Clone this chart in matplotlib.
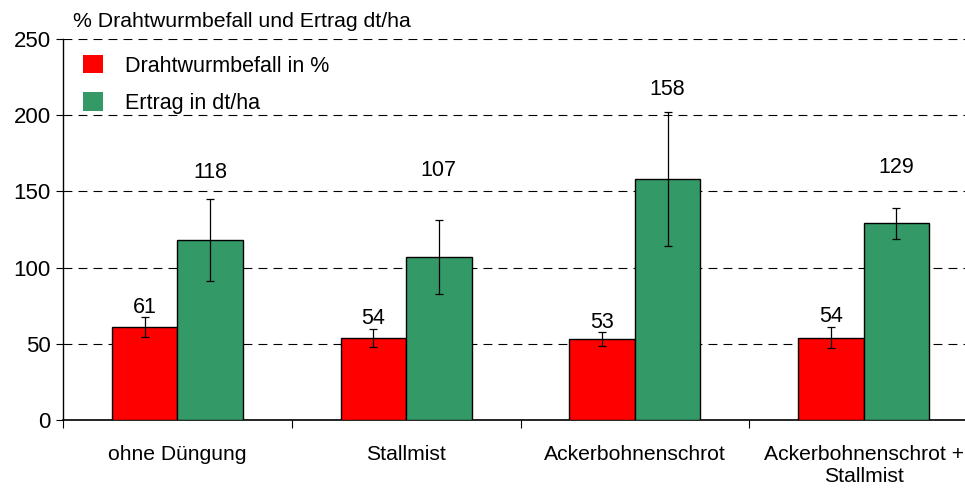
import matplotlib
matplotlib.use("Agg")
import matplotlib.pyplot as plt
from matplotlib.patches import Patch
import numpy as np

kategorien = ["ohne Düngung", "Stallmist", "Ackerbohnenschrot", "Ackerbohnenschrot +\nStallmist"]
drahtwurm = [61, 54, 53, 54]
drahtwurm_fehler = [6.4, 6, 4.5, 7]
ertrag = [118, 107, 158, 129]
ertrag_fehler = [27, 24, 44, 10]
y_ticks = [0, 50, 100, 150, 200, 250]

ROT = "#ff0000"
GRUEN = "#339966"

# Hoehe der Ertrag-Beschriftungen (wie im Original frei platziert)
ertrag_label_y = [159, 160, 213, 162]

plt.rcParams["font.family"] = ["Liberation Sans", "DejaVu Sans"]
plt.rcParams["font.size"] = 15.5

fig = plt.figure(figsize=(9.65, 4.88), dpi=100)
ax = fig.add_axes([63 / 965, 68 / 488, 915 / 965, 381 / 488])

x = np.arange(len(kategorien))
breite = 0.286

ax.bar(x - breite / 2, drahtwurm, breite, color=ROT, edgecolor="black", linewidth=1, zorder=3)
ax.bar(x + breite / 2, ertrag, breite, color=GRUEN, edgecolor="black", linewidth=1, zorder=3)
ax.errorbar(x - breite / 2, drahtwurm, yerr=drahtwurm_fehler, fmt="none", ecolor="black",
            elinewidth=0.9, capsize=3, capthick=0.9, zorder=4)
ax.errorbar(x + breite / 2, ertrag, yerr=ertrag_fehler, fmt="none", ecolor="black",
            elinewidth=0.9, capsize=3, capthick=0.9, zorder=4)

for xi, wert, fehler in zip(x, drahtwurm, drahtwurm_fehler):
    ax.text(xi - breite / 2, wert + fehler + 3, str(wert), ha="center", va="baseline", fontsize=15.5)
for xi, wert, ly in zip(x, ertrag, ertrag_label_y):
    ax.text(xi + breite / 2, ly, str(wert), ha="center", va="baseline", fontsize=15.5)

ax.set_ylim(0, 250)
ax.set_xlim(-0.5, len(kategorien) - 0.5)
ax.set_yticks(y_ticks)
ax.tick_params(axis="y", labelsize=16, length=5, width=0.8, direction="out", pad=4)

ax.set_xticks(x)
ax.set_xticklabels(kategorien, fontsize=15.2, linespacing=1.2)
ax.tick_params(axis="x", length=0, pad=18)
ax.set_xticks(np.arange(len(kategorien) + 1) - 0.5, minor=True)
ax.tick_params(axis="x", which="minor", length=6, width=0.8, direction="out")

ax.grid(axis="y", color="black", linewidth=0.8, linestyle=(0, (8, 5.5)), zorder=1)
for side in ["top", "right"]:
    ax.spines[side].set_visible(False)
ax.spines["left"].set_linewidth(1)
ax.spines["bottom"].set_linewidth(1.2)

handles = [Patch(facecolor=ROT, edgecolor="none"), Patch(facecolor=GRUEN, edgecolor="none")]
ax.legend(handles, ["Drahtwurmbefall in %", "Ertrag in dt/ha"], loc="upper left",
          bbox_to_anchor=(20 / 915, 1 - 16 / 381), frameon=False, fontsize=15.5,
          borderpad=0, borderaxespad=0, handlelength=0.93, handleheight=0.93,
          handletextpad=1.02, labelspacing=0.74)

fig.text(73 / 965, 1 - 27 / 488, "% Drahtwurmbefall und Ertrag dt/ha", fontsize=15.3, va="baseline")

fig.savefig("out.png", dpi=100)
